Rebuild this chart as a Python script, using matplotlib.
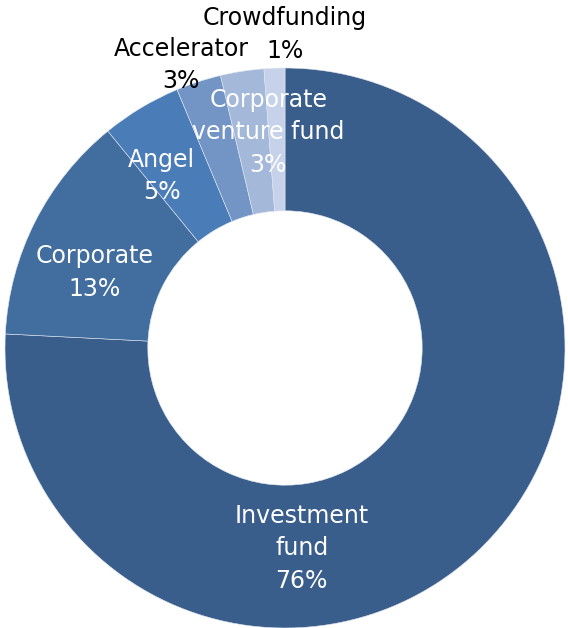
import numpy as np
import matplotlib
matplotlib.use("Agg")
import matplotlib.pyplot as plt

# share of funding by investor type (%)
categories = ["Investment\nfund", "Corporate", "Angel", "Accelerator",
              "Corporate\nventure fund", "Crowdfunding"]
shares = [75.8, 13.3, 4.6, 2.6, 2.5, 1.2]
shown_pct = ["76%", "13%", "5%", "3%", "3%", "1%"]
colors = ["#3a5e8b", "#416d9f", "#4a7cb8", "#7395c6", "#a4b8da", "#c6d2e9"]

# label centres in pie units and their text colour
label_xy = [(0.06, -0.715), (-0.68, 0.27), (-0.44, 0.615),
            (-0.37, 1.01), (-0.06, 0.77), (0.0, 1.12)]
label_color = ["white", "white", "white", "black", "white", "black"]


def run():
  fig = plt.figure(figsize=(5.68, 6.28), dpi=100)
  ax = fig.add_axes([5 / 568, 0, 560 / 568, 560 / 628])

  wedges, _ = ax.pie(shares, colors=colors, startangle=90, counterclock=False,
                     radius=1.0, wedgeprops=dict(width=0.51, edgecolor="#dfe6f0",
                                                 linewidth=0.4))
  ax.set_xlim(-1, 1)
  ax.set_ylim(-1, 1)
  ax.set_aspect("equal")
  ax.axis("off")

  for i, w in enumerate(wedges):
    x, y = label_xy[i]
    ax.text(x, y, categories[i] + "\n" + shown_pct[i], ha="center", va="center",
            color=label_color[i], fontsize=17, linespacing=1.45, clip_on=False)

  fig.savefig("out.png", dpi=100)


if __name__ == '__main__':
  run()
